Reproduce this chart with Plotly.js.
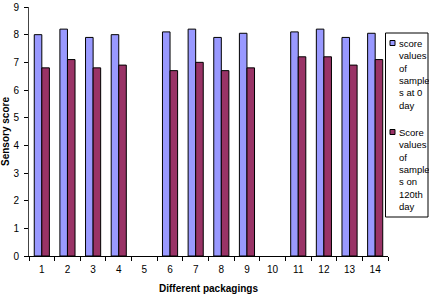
<!DOCTYPE html>
<html><head><meta charset="utf-8">
<script src="https://cdn.plot.ly/plotly-3.0.1.min.js"></script>
<style>html,body{margin:0;padding:0;background:#fff}#chart{width:429px;height:295px}</style>
</head><body><div id="chart"></div>
<script>
const categories = ["1","2","3","4","5","6","7","8","9","10","11","12","13","14"];
const day0Scores = [8.0, 8.2, 7.9, 8.0, null, 8.1, 8.2, 7.9, 8.05, null, 8.1, 8.2, 7.9, 8.05];
const day120Scores = [6.8, 7.1, 6.8, 6.9, null, 6.7, 7.0, 6.7, 6.8, null, 7.2, 7.2, 6.9, 7.1];
const seriesNames = ["score<br>values<br>of<br>sample<br>s at 0<br>day", "Score<br>values<br>of<br>sample<br>s on<br>120th<br>day"];
const yTicks = [0,1,2,3,4,5,6,7,8,9];

const font = "Liberation Sans, Arial, sans-serif";
const traces = [
  {type:"bar", x:categories, y:day0Scores, name:"day0", marker:{color:"#9999FF", line:{color:"#000000", width:1}}, showlegend:false},
  {type:"bar", x:categories, y:day120Scores, name:"day120", marker:{color:"#993366", line:{color:"#000000", width:1}}, showlegend:false}
];
const L = 29, R = 388, T = 7, B = 256;
const px = v => (v - L) / (R - L);
const py = v => (B - v) / (B - T);
const layout = {
  width:429, height:295,
  margin:{l:L, r:429-R, t:T, b:295-B, pad:0},
  paper_bgcolor:"#fff", plot_bgcolor:"#fff",
  barmode:"group", bargap:0.41, bargroupgap:0,
  font:{family:font, size:10, color:"#000"},
  xaxis:{type:"category", categoryarray:categories, showline:true, linecolor:"#000", linewidth:1,
    ticks:"outside", ticklen:4, tickcolor:"#000", tickson:"boundaries", showgrid:false, zeroline:false,
    ticklabelstandoff:4,
    tickfont:{size:10, family:font},
    title:{text:"<b>Different packagings</b>", font:{size:10, family:font}, standoff:10}},
  yaxis:{range:[0,9], tickvals:yTicks, showline:true, linecolor:"#444", linewidth:1,
    ticks:"outside", ticklen:4, tickcolor:"#000", showgrid:false, zeroline:false,
    ticklabelstandoff:3,
    tickfont:{size:10, family:font},
    title:{text:"<b>Sensory score</b>", font:{size:10, family:font}, standoff:4}},
  shapes:[
    {type:"rect", xref:"paper", yref:"paper", x0:px(385.5), x1:px(428), y0:py(217), y1:py(33), line:{color:"#000", width:1}, fillcolor:"rgba(0,0,0,0)"},
    {type:"rect", xref:"paper", yref:"paper", x0:px(390), x1:px(395), y0:py(45.5), y1:py(40.5), line:{color:"#000", width:1}, fillcolor:"#9999FF"},
    {type:"rect", xref:"paper", yref:"paper", x0:px(390), x1:px(395), y0:py(134.5), y1:py(129.5), line:{color:"#000", width:1}, fillcolor:"#993366"}
  ],
  annotations:[
    {xref:"paper", yref:"paper", x:px(397), y:py(35.5), xanchor:"left", yanchor:"top", align:"left", showarrow:false, text:seriesNames[0], font:{size:9.5, family:font}},
    {xref:"paper", yref:"paper", x:px(397), y:py(124.5), xanchor:"left", yanchor:"top", align:"left", showarrow:false, text:seriesNames[1], font:{size:9.5, family:font}}
  ]
};
Plotly.newPlot("chart", traces, layout, {displayModeBar:false, staticPlot:true});
</script></body></html>
